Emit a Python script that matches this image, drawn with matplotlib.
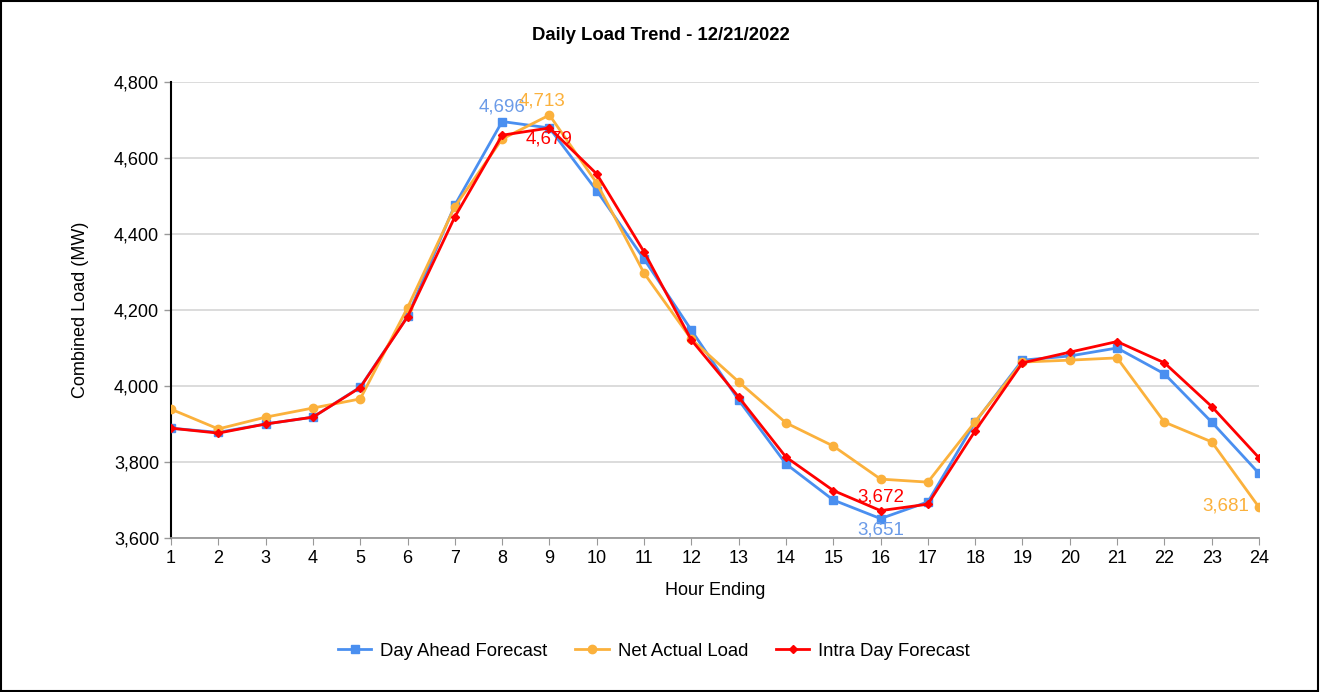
import matplotlib.pyplot as plt
from matplotlib.patches import Rectangle

plt.rcParams["font.family"] = ["Liberation Sans", "DejaVu Sans"]

hours = list(range(1, 25))
day_ahead = [3889, 3878, 3900, 3918, 3997, 4183, 4476, 4696, 4679, 4514,
             4334, 4147, 3963, 3795, 3700, 3651, 3695, 3905, 4068, 4079,
             4100, 4032, 3905, 3770]
net_actual = [3939, 3887, 3918, 3942, 3966, 4206, 4472, 4650, 4713, 4534,
              4297, 4123, 4011, 3903, 3842, 3755, 3747, 3906, 4063, 4068,
              4074, 3905, 3853, 3681]
intra_day = [3889, 3876, 3900, 3918, 3996, 4182, 4445, 4660, 4679, 4558,
             4353, 4121, 3971, 3813, 3725, 3672, 3689, 3882, 4061, 4089,
             4117, 4061, 3946, 3811]

BLUE = "#4a8ff0"
ORANGE = "#fbb13c"
RED = "#ff0000"

fig = plt.figure(figsize=(13.21, 6.92), dpi=100)
fig.patches.append(Rectangle((0.001, 0.002), 0.997, 0.996, transform=fig.transFigure,
                             fill=False, edgecolor="black", linewidth=1.5))
ax = fig.add_axes([171 / 1321, 1 - 538 / 692, (1259 - 171) / 1321, (538 - 82) / 692])

ax.plot(hours, day_ahead, color=BLUE, marker="s", markersize=6, linewidth=2,
        label="Day Ahead Forecast", zorder=3)
ax.plot(hours, net_actual, color=ORANGE, marker="o", markersize=6, linewidth=2,
        label="Net Actual Load", zorder=3)
ax.plot(hours, intra_day, color=RED, marker="D", markersize=4.5, linewidth=2,
        label="Intra Day Forecast", zorder=4)

# labels for max / min values
def lab(x, y, text, color, dx=0, dy=0, ha="center", va="bottom"):
    ax.annotate(text, (x, y), xytext=(dx, dy), textcoords="offset points",
                color=color, fontsize=13.5, ha=ha, va=va, zorder=5)

lab(8, day_ahead[7], f"{day_ahead[7]:,}", "#6b9be8", dx=0, dy=4)
lab(9, net_actual[8], f"{net_actual[8]:,}", ORANGE, dx=-5, dy=4)
lab(9, intra_day[8], f"{intra_day[8]:,}", RED, dy=-2, va="top")
lab(16, intra_day[15], f"{intra_day[15]:,}", RED, dy=4)
lab(16, day_ahead[15], f"{day_ahead[15]:,}", "#6b9be8", dy=-2, va="top")
lab(24, net_actual[23], f"{net_actual[23]:,}", ORANGE, dx=-7, dy=1, ha="right", va="center")

ax.set_xlim(1, 24)
ax.set_ylim(3600, 4800)
ax.set_xticks(hours)
ax.set_yticks(range(3600, 4801, 200))
ax.yaxis.set_major_formatter(plt.FuncFormatter(lambda v, p: f"{int(v):,}"))
ax.grid(axis="y", color="#d9d9d9", linewidth=1.3)
ax.set_axisbelow(True)
for s in ["top", "right"]:
    ax.spines[s].set_visible(False)
ax.spines["left"].set_color("black")
ax.spines["left"].set_linewidth(1.5)
ax.spines["bottom"].set_color("#999999")
ax.spines["bottom"].set_linewidth(1.3)
ax.tick_params(axis="x", colors="#999999", labelcolor="black", labelsize=13, length=5)
ax.tick_params(axis="y", colors="#999999", labelcolor="black", labelsize=13, length=5, width=1)

ax.set_xlabel("Hour Ending", fontsize=13, labelpad=11)
ax.set_ylabel("Combined Load (MW)", fontsize=13, labelpad=18)
fig.text(0.5, 1 - 35 / 692, "Daily Load Trend - 12/21/2022",
         ha="center", va="center", fontsize=13.3, fontweight="bold")

fig.legend(loc="center", bbox_to_anchor=(654 / 1321, 1 - 651 / 692), ncol=3,
           frameon=False, fontsize=13.3, columnspacing=1.5, handlelength=1.8,
           handletextpad=0.5)

plt.savefig("out.png", dpi=100)
